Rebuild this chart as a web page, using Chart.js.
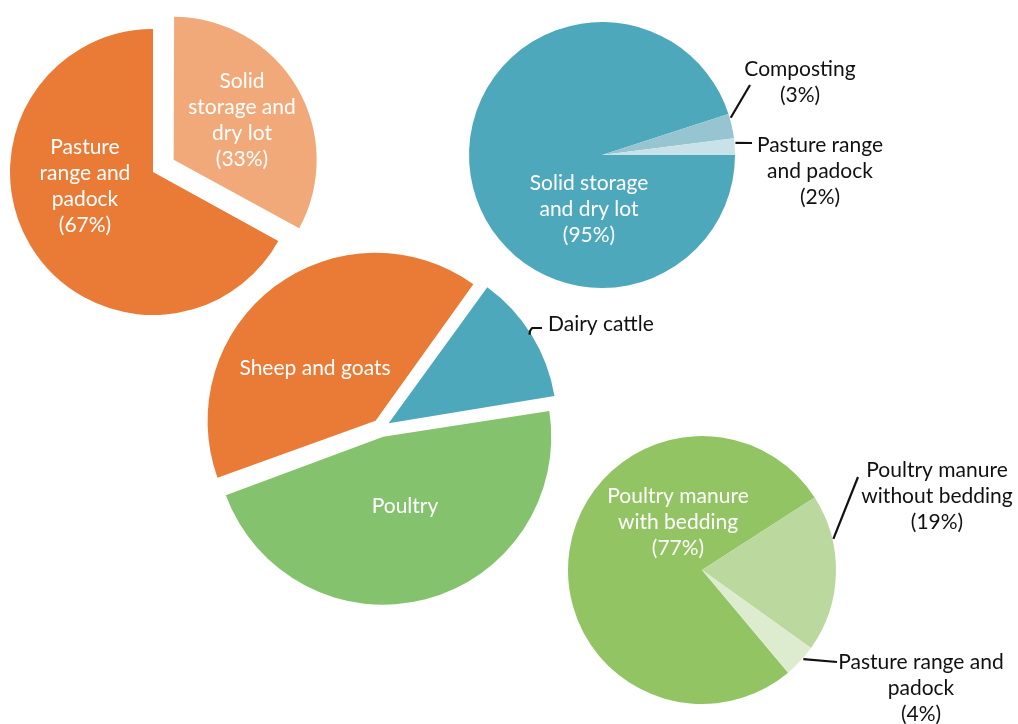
<!DOCTYPE html>
<html>
<head>
<meta charset="utf-8">
<title>Manure management systems</title>
<script src="https://cdn.jsdelivr.net/npm/chart.js@4.4.1/dist/chart.umd.min.js"></script>
<style>
  html, body { margin: 0; padding: 0; background: #fff; }
  #stage { position: relative; width: 1018px; height: 724px; overflow: hidden; }
  #stage canvas { position: absolute; left: 0; top: 0; }
</style>
</head>
<body>
<div id="stage">
  <canvas id="sheep-chart" width="1018" height="724"></canvas>
  <canvas id="dairy-chart" width="1018" height="724"></canvas>
  <canvas id="livestock-chart" width="1018" height="724"></canvas>
  <canvas id="poultry-chart" width="1018" height="724"></canvas>
</div>
<script>
// sheep and goats: how manure is handled (%)
const sheepLabels = [['Solid', 'storage and', 'dry lot'], ['Pasture', 'range and', 'padock']];
const sheepValues = [33, 67];

// dairy cattle (%)
const dairyLabels = [['Solid storage', 'and dry lot'], ['Composting'], ['Pasture range', 'and padock']];
const dairyValues = [95, 3, 2];

// share by livestock type (no figures printed, estimated)
const livestockLabels = [['Sheep and goats'], ['Dairy cattle'], ['Poultry']];
const livestockValues = [40.5, 12.5, 47];

// poultry (%)
const poultryLabels = [['Poultry manure', 'with bedding'], ['Poultry manure', 'without bedding'], ['Pasture range and', 'padock']];
const poultryValues = [77, 19, 4];

const W = 1018, H = 724;
const FONT = '21px Lato, "Open Sans", sans-serif';
const LINE_H = 26;

// chart.js pushes an exploded slice out by offset/4 and also grows its radius a bit;
// take the growth back so every slice keeps the same radius
const evenRadius = {
    id: 'evenRadius',
    afterDatasetUpdate(chart, args) {
        args.meta.data.forEach(arc => {
            const shift = (arc.options.offset || 0) / 4;
            const fix = 1 - Math.sin(Math.min(Math.PI, arc.circumference));
            arc.outerRadius -= shift * fix;
        });
    }
};

// writes the slice names (plus the % line) and the leader lines
const sliceLabels = {
    id: 'sliceLabels',
    afterDatasetsDraw(chart, args, opts) {
        const ctx = chart.ctx;
        const meta = chart.getDatasetMeta(0);
        const values = chart.data.datasets[0].data;
        ctx.save();
        ctx.font = FONT;
        ctx.textBaseline = 'middle';
        opts.items.forEach((item, i) => {
            const arc = meta.data[i];
            const lines = chart.data.labels[i].slice();
            if (opts.showPct) lines.push('(' + values[i] + '%)');

            if (item.leader) {
                const p = arc.getProps(['x', 'y', 'startAngle', 'endAngle', 'outerRadius'], true);
                const a = p.startAngle + item.leader.frac * (p.endAngle - p.startAngle);
                const shift = (arc.options.offset || 0) / 4;
                const mid = (p.startAngle + p.endAngle) / 2;
                const cx = p.x + Math.cos(mid) * shift;
                const cy = p.y + Math.sin(mid) * shift;
                ctx.beginPath();
                ctx.moveTo(cx + Math.cos(a) * (p.outerRadius + 1), cy + Math.sin(a) * (p.outerRadius + 1));
                item.leader.path.forEach(pt => ctx.lineTo(pt[0], pt[1]));
                ctx.strokeStyle = '#111';
                ctx.lineWidth = 2.2;
                ctx.lineJoin = 'round';
                ctx.stroke();
            }

            ctx.fillStyle = item.color;
            ctx.textAlign = item.align || 'center';
            const top = item.pos[1] - (lines.length - 1) * LINE_H / 2;
            lines.forEach((ln, k) => ctx.fillText(ln, item.pos[0], top + k * LINE_H));
        });
        ctx.restore();
    }
};

function makePie(id, labels, values, colors, cfg) {
    // put the chart area's middle on the pie centre
    const [cx, cy] = cfg.center;
    const pad = {
        left: cx < W / 2 ? 0 : 2 * cx - W,
        right: cx < W / 2 ? W - 2 * cx : 0,
        top: cy < H / 2 ? 0 : 2 * cy - H,
        bottom: cy < H / 2 ? H - 2 * cy : 0
    };
    return new Chart(document.getElementById(id), {
        type: 'pie',
        data: {
            labels: labels,
            datasets: [{
                data: values,
                backgroundColor: colors,
                borderWidth: 0,
                offset: cfg.offset || 0,
                clip: false
            }]
        },
        options: {
            responsive: false,
            animation: false,
            events: [],
            rotation: cfg.rotation,
            radius: cfg.radius,
            layout: { padding: pad },
            plugins: {
                legend: { display: false },
                tooltip: { enabled: false },
                sliceLabels: { items: cfg.items, showPct: cfg.showPct }
            }
        },
        plugins: [evenRadius, sliceLabels]
    });
}

makePie('sheep-chart', sheepLabels, sheepValues, ['#F1A97A', '#E97B37'], {
    center: [153, 172], radius: 143, rotation: 0, offset: [96, 0], showPct: true,
    items: [
        { pos: [242, 120], color: '#fff' },
        { pos: [85, 186], color: '#fff' }
    ]
});

makePie('dairy-chart', dairyLabels, dairyValues, ['#4EA8BC', '#97C4D1', '#C9E1E8'], {
    center: [602, 155], radius: 133, rotation: 90, showPct: true,
    items: [
        { pos: [589, 209], color: '#fff' },
        { pos: [800, 82], color: '#111', leader: { frac: 0.17, path: [[750, 85]] } },
        { pos: [820, 171], color: '#111', leader: { frac: 0.28, path: [[752, 143]] } }
    ]
});

makePie('livestock-chart', livestockLabels, livestockValues, ['#E97B37', '#4EA8BC', '#84C26E'], {
    center: [381, 428], radius: 168, rotation: 250, offset: 36, showPct: false,
    items: [
        { pos: [315, 368], color: '#fff' },
        { pos: [548, 324], color: '#111', align: 'left', leader: { frac: 0.49, path: [[530, 331], [532, 328], [542, 328]] } },
        { pos: [405, 506], color: '#fff' }
    ]
});

makePie('poultry-chart', poultryLabels, poultryValues, ['#93C464', '#BBD89E', '#DDEBCE'], {
    center: [702, 570], radius: 134, rotation: 140, showPct: true,
    items: [
        { pos: [678, 522], color: '#fff' },
        { pos: [937, 496], color: '#111', leader: { frac: 0.285, path: [[858, 477]] } },
        { pos: [921, 688], color: '#111', leader: { frac: 0.4, path: [[837, 662]] } }
    ]
});
</script>
</body>
</html>
